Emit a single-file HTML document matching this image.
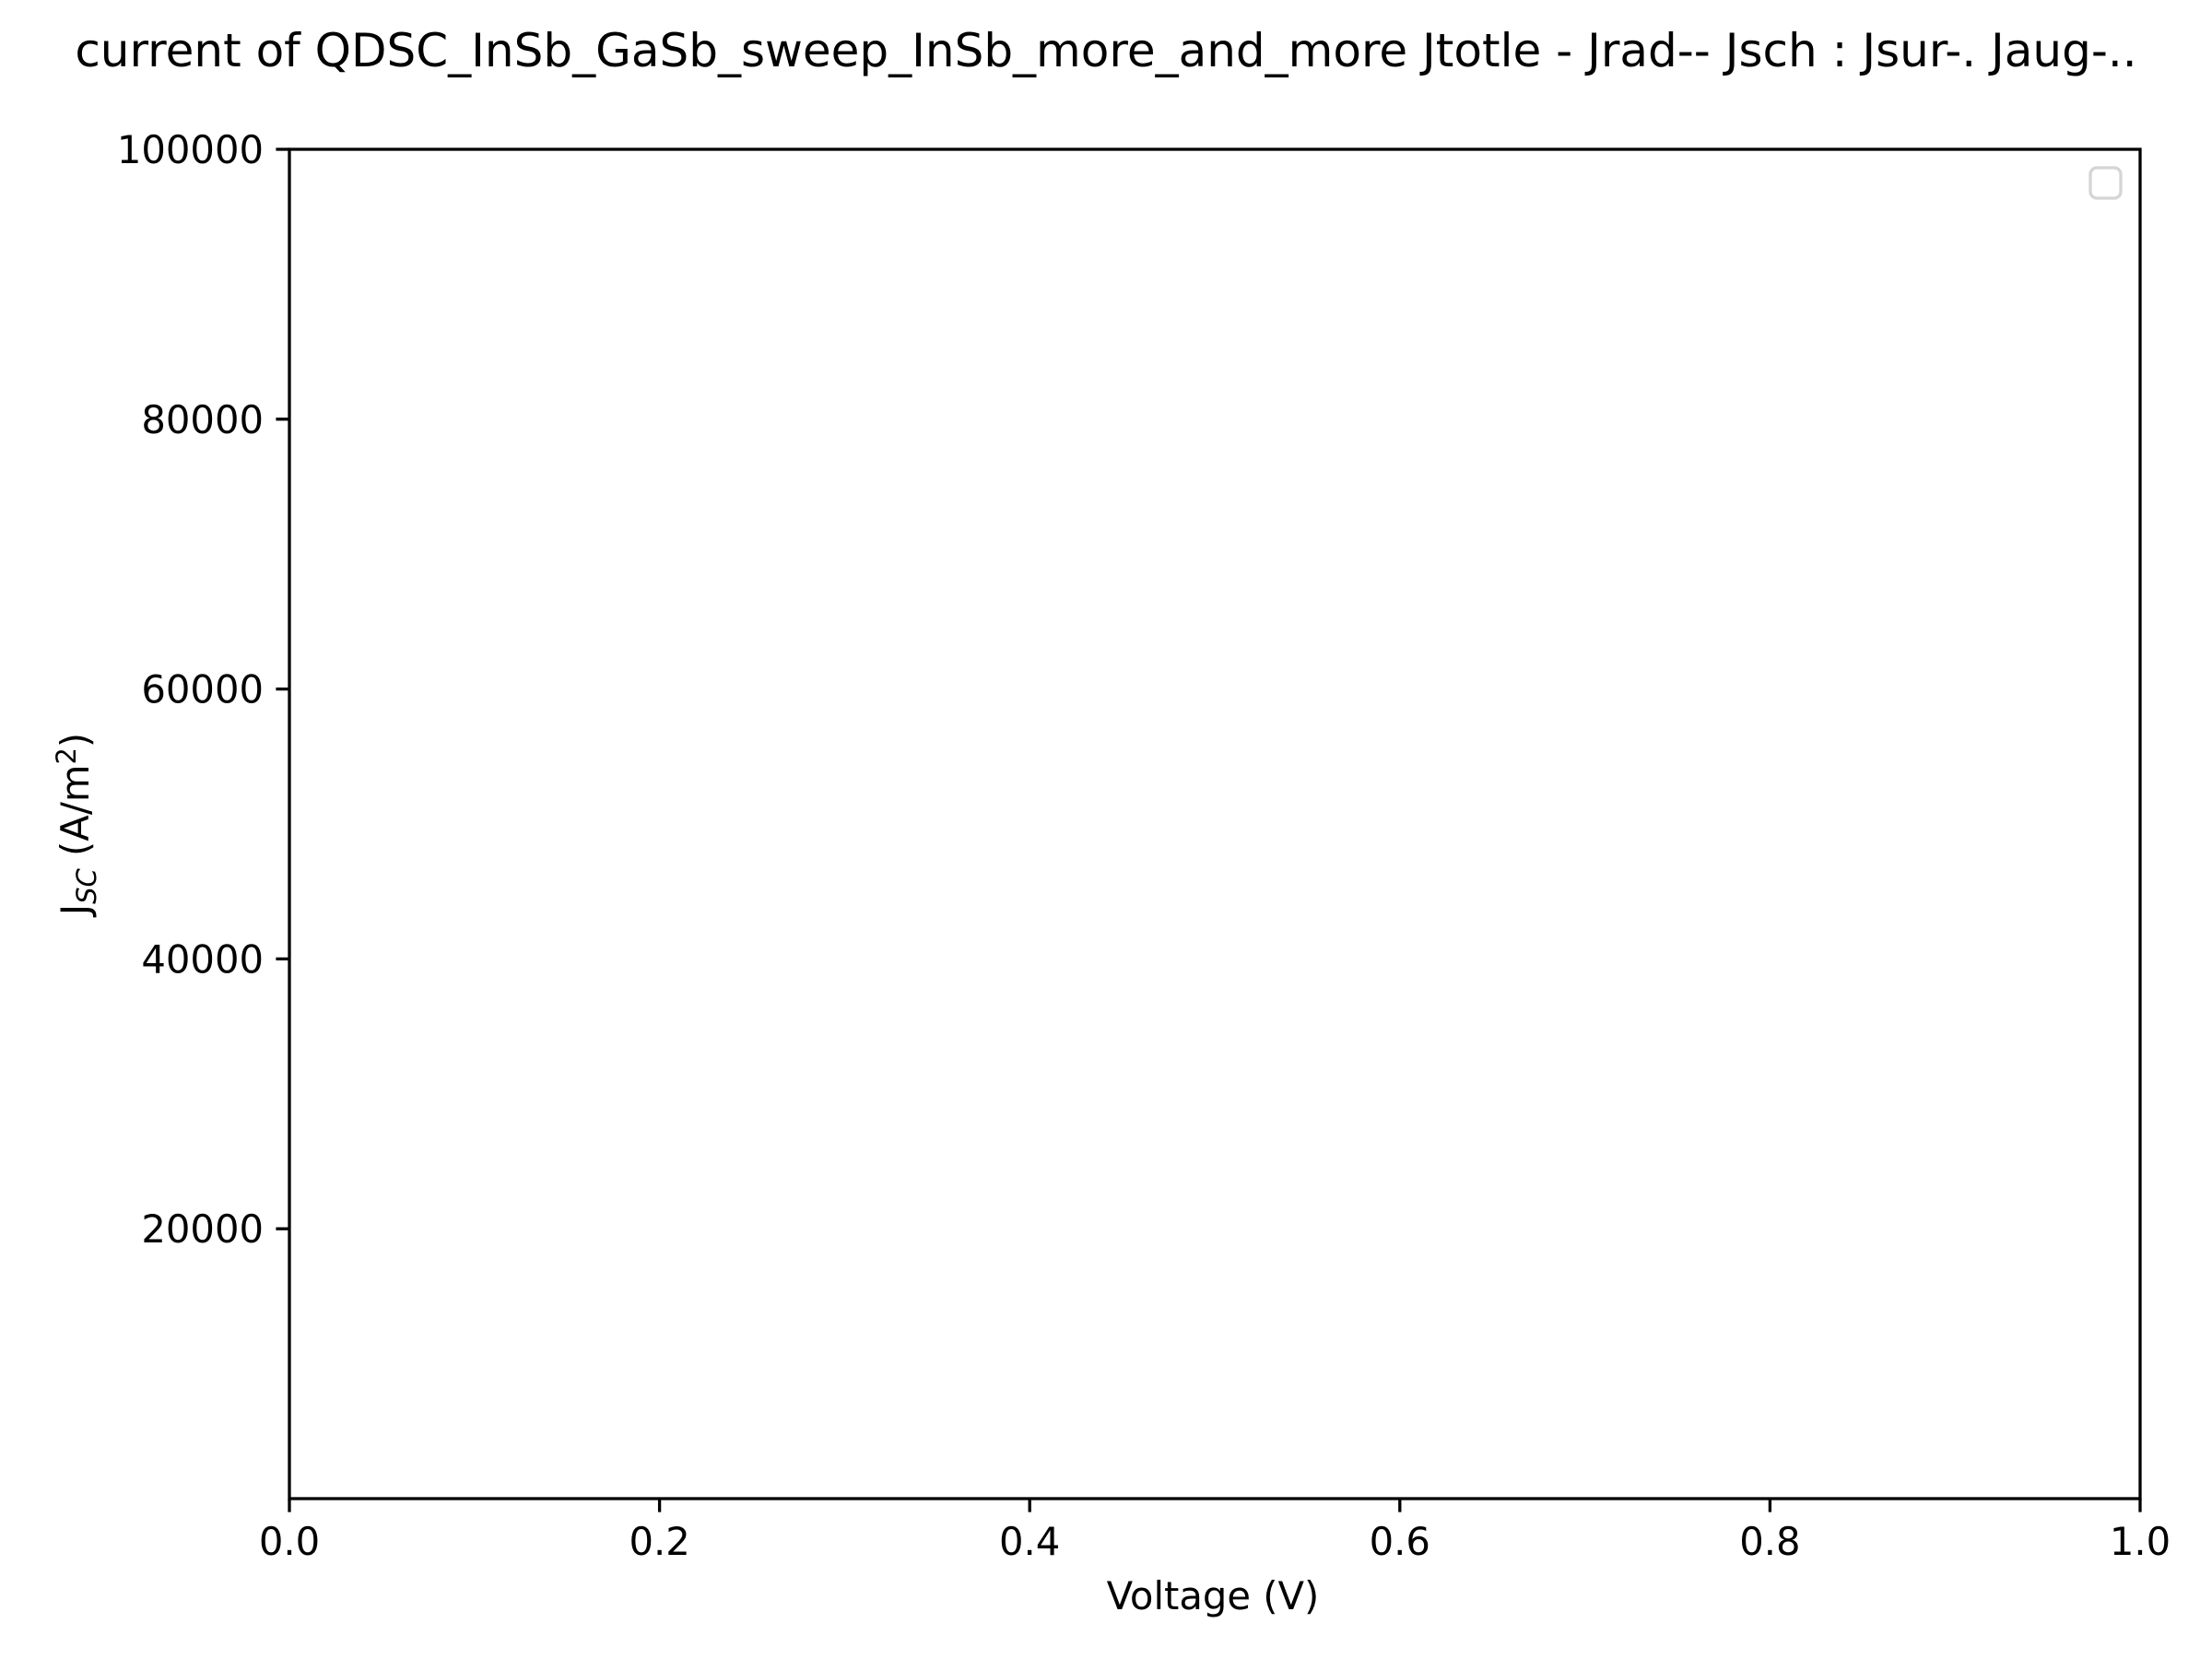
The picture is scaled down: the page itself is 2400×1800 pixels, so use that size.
<!DOCTYPE html>
<html><head><meta charset="utf-8"><style>html,body{margin:0;padding:0;background:#fff}svg{display:block}text{font-family:"DejaVu Sans","Liberation Sans",sans-serif;fill:#000}</style></head>
<body>
<svg id="chart" width="2400" height="1800" viewBox="0 0 2400 1800" xmlns="http://www.w3.org/2000/svg">
<rect width="2400" height="1800" fill="#fff"/>
<text x="1200" y="72" font-size="50" text-anchor="middle">current of QDSC_InSb_GaSb_sweep_InSb_more_and_more Jtotle - Jrad-- Jsch : Jsur-. Jaug-..</text>
<g id="ticks"></g>
<rect x="314" y="162" width="2008" height="1464" fill="none" stroke="#000" stroke-width="3.3"/>
<rect x="2268" y="182" width="33" height="33" rx="7" fill="#fff" stroke="#d5d5d5" stroke-width="3.3"/>
<text x="1316" y="1746" font-size="41.7" text-anchor="middle">Voltage (V)</text>
<text transform="translate(96,894) rotate(-90)" font-size="41.7" text-anchor="middle">J<tspan font-size="29" font-style="italic" dy="8">SC</tspan><tspan dy="-8"> (A/m</tspan><tspan font-size="29" dy="-14">2</tspan><tspan dy="14">)</tspan></text>
</svg>
<script>
const xTicks = [0.0, 0.2, 0.4, 0.6, 0.8, 1.0];
const xTickLabels = ["0.0", "0.2", "0.4", "0.6", "0.8", "1.0"];
const yTicks = [20000, 40000, 60000, 80000, 100000];
const yTickLabels = ["20000", "40000", "60000", "80000", "100000"];
const seriesVoltage = [];
const seriesCurrent = [];
const X0 = 314, X1 = 2322, Y0 = 1626, Y1 = 162;
function xs(v){ return X0 + (v - 0) / (1 - 0) * (X1 - X0); }
function ys(v){ return Y0 - (v - 0) / (100000 - 0) * (Y0 - Y1); }
const NS = "http://www.w3.org/2000/svg";
const g = document.getElementById('ticks');
xTicks.forEach((v, i) => {
  const x = xs(v);
  const l = document.createElementNS(NS, 'line');
  l.setAttribute('x1', x); l.setAttribute('x2', x); l.setAttribute('y1', Y0); l.setAttribute('y2', Y0 + 14.6);
  l.setAttribute('stroke', '#000'); l.setAttribute('stroke-width', '3.3');
  
  
  g.appendChild(l);
  const t = document.createElementNS(NS, 'text');
  t.setAttribute('x', x); t.setAttribute('y', 1687); t.setAttribute('font-size', '41.7'); t.setAttribute('text-anchor', 'middle');
  t.textContent = xTickLabels[i];
  
  
  g.appendChild(t);
});
yTicks.forEach((v, i) => {
  const y = ys(v);
  const l = document.createElementNS(NS, 'line');
  l.setAttribute('x1', X0 - 14.6); l.setAttribute('x2', X0); l.setAttribute('y1', y); l.setAttribute('y2', y);
  l.setAttribute('stroke', '#000'); l.setAttribute('stroke-width', '3.3');
  
  
  g.appendChild(l);
  const t = document.createElementNS(NS, 'text');
  t.setAttribute('x', 286); t.setAttribute('y', y + 15); t.setAttribute('font-size', '41.7'); t.setAttribute('text-anchor', 'end');
  t.textContent = yTickLabels[i];
  
  
  g.appendChild(t);
});
if (seriesVoltage.length) {
  const p = document.createElementNS(NS, 'polyline');
  p.setAttribute('points', seriesVoltage.map((v, i) => xs(v) + ',' + ys(seriesCurrent[i])).join(' '));
  p.setAttribute('fill', 'none'); p.setAttribute('stroke', '#1f77b4'); p.setAttribute('stroke-width', '6');
  
  
  g.appendChild(p);
}
</script>
</body></html>
